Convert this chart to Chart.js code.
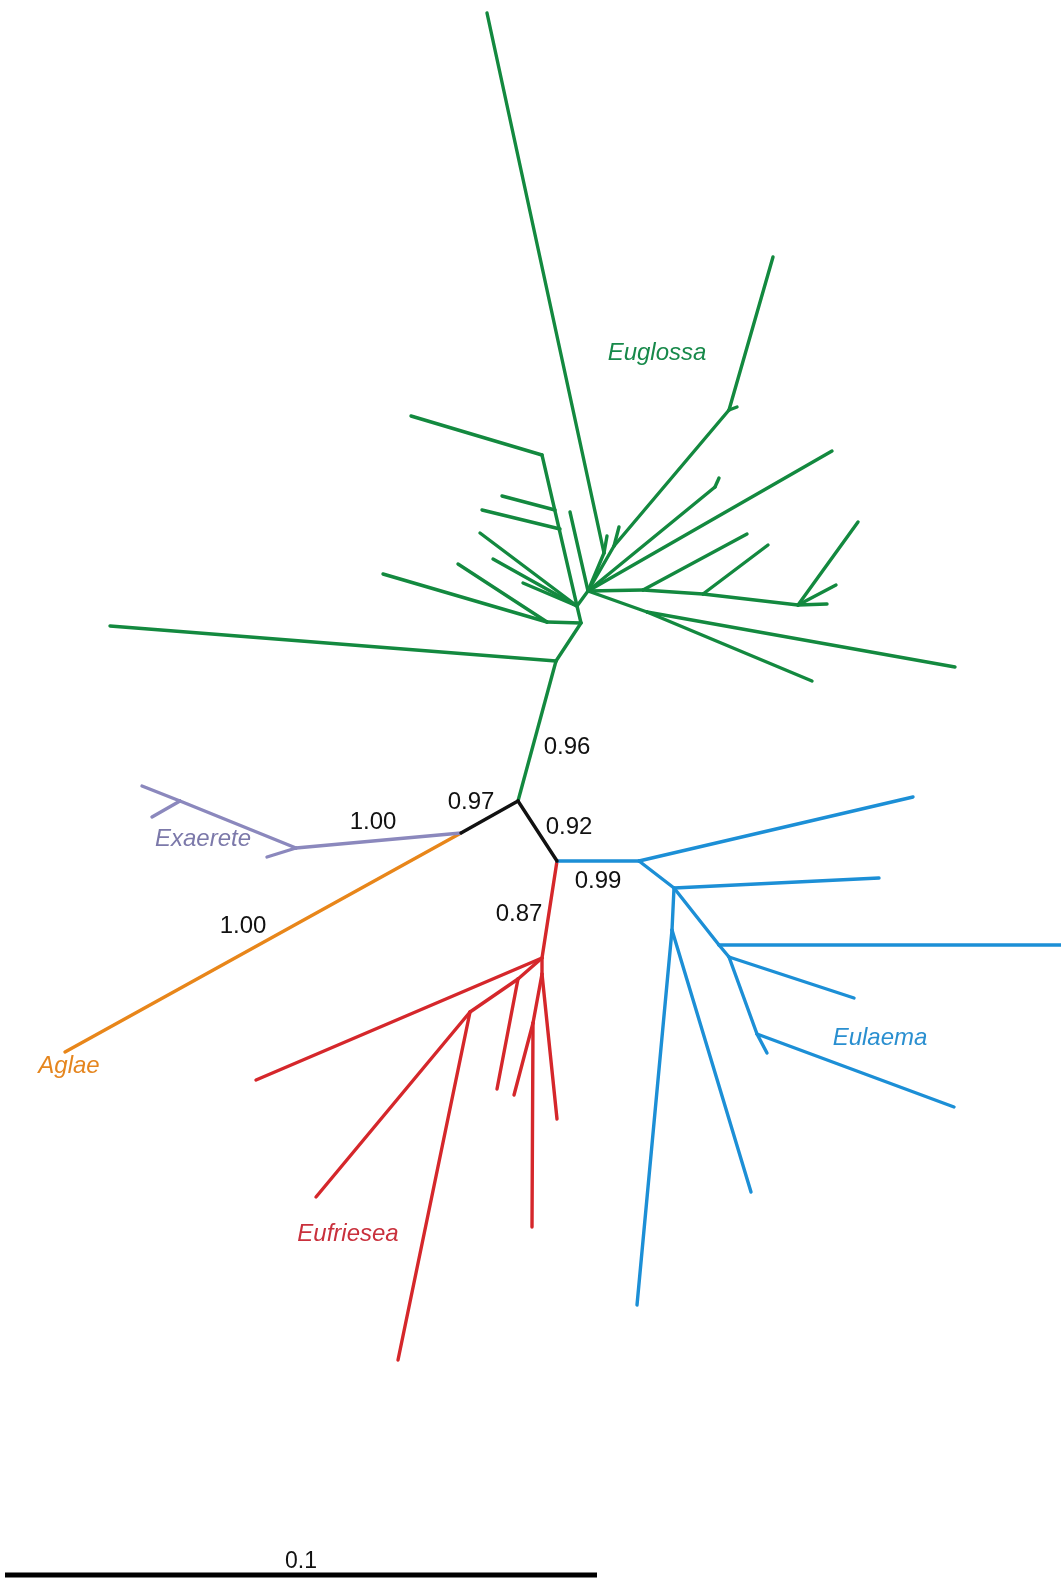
<!DOCTYPE html>
<html>
<head>
<meta charset="utf-8">
<script src="https://cdn.jsdelivr.net/npm/chart.js@4/dist/chart.umd.min.js"></script>
<style>
  html, body { margin: 0; padding: 0; background: #ffffff; }
  #wrap { width: 1061px; height: 1580px; position: relative; }
</style>
</head>
<body>
<div id="wrap"><canvas id="tree" width="1061" height="1580"></canvas></div>
<script>
// Unrooted tree of euglossine bee genera, edges as [x1, y1, x2, y2] in layout units.
const backboneEdges = [
  [518, 801, 461, 833],
  [518, 801, 557, 861]
];

const euglossaEdges = [
  [518, 801, 556, 661], [556, 661, 110, 626], [556, 661, 581, 623],
  [581, 623, 547, 622], [547, 622, 383, 574], [547, 622, 458, 564],
  [581, 623, 577, 606], [577, 606, 588, 591],
  [577, 606, 542, 455], [542, 455, 411, 416],
  [555, 510, 502, 496], [560, 529, 482, 510],
  [577, 606, 480, 533], [577, 606, 493, 559], [577, 606, 523, 583],
  [588, 591, 570, 512],
  [588, 591, 604, 553], [604, 553, 487, 13], [604, 553, 607, 536],
  [588, 591, 614, 546], [614, 546, 619, 527], [614, 546, 729, 410],
  [729, 410, 773, 257], [729, 410, 737, 407],
  [588, 591, 715, 487], [715, 487, 719, 478],
  [588, 591, 832, 451],
  [588, 591, 643, 590], [643, 590, 703, 594], [703, 594, 798, 605],
  [643, 590, 747, 534], [703, 594, 768, 545],
  [798, 605, 858, 522], [798, 605, 836, 585], [798, 605, 827, 604],
  [588, 591, 647, 612], [647, 612, 955, 667], [647, 612, 812, 681]
];

const exaereteEdges = [
  [461, 833, 296, 848], [296, 848, 267, 857], [296, 848, 180, 801],
  [180, 801, 142, 786], [180, 801, 152, 817]
];

const aglaeEdges = [
  [461, 833, 65, 1052]
];

const eulaemaEdges = [
  [557, 861, 639, 861], [639, 861, 913, 797], [639, 861, 674, 888],
  [674, 888, 879, 878], [674, 888, 719, 945], [719, 945, 1061, 945],
  [719, 945, 729, 957], [729, 957, 854, 998], [729, 957, 757, 1034],
  [757, 1034, 767, 1053], [757, 1034, 954, 1107],
  [674, 888, 672, 930], [672, 930, 637, 1305], [672, 930, 751, 1192]
];

const eufrieseaEdges = [
  [557, 861, 542, 958], [542, 958, 256, 1080], [542, 958, 518, 979],
  [518, 979, 470, 1012], [518, 979, 497, 1089], [470, 1012, 316, 1197],
  [470, 1012, 398, 1360], [542, 958, 542, 974], [542, 974, 557, 1119],
  [542, 974, 533, 1023], [533, 1023, 514, 1095], [533, 1023, 532, 1227]
];

// Scale bar: 0.1 substitutions per site
const scaleBar = [5, 1575, 597, 1575];
const scaleBarLabel = '0.1';

// Clade names and their label anchors
const cladeNames = ['Euglossa', 'Exaerete', 'Aglae', 'Eufriesea', 'Eulaema'];
const cladeLabelPos = [[657, 353], [203, 839], [69, 1066], [348, 1234], [880, 1038]];
const cladeLabelColors = ['#17894a', '#7c79aa', '#e5861f', '#c9303c', '#2a8fd0'];

// Posterior support values on internal branches
const supportValues = ['0.96', '0.97', '1.00', '0.92', '0.99', '0.87', '1.00'];
const supportPos = [[567, 747], [471, 802], [373, 822], [569, 827], [598, 881], [519, 914], [243, 926]];

const cladeStyles = [
  { edges: backboneEdges, color: '#111111' },
  { edges: euglossaEdges, color: '#13893f' },
  { edges: exaereteEdges, color: '#8b88bd' },
  { edges: aglaeEdges, color: '#e8861a' },
  { edges: eulaemaEdges, color: '#1c8fd6' },
  { edges: eufrieseaEdges, color: '#d5272b' }
];

const datasets = [];
cladeStyles.forEach(c => {
  c.edges.forEach(e => {
    datasets.push({
      data: [{ x: e[0], y: e[1] }, { x: e[2], y: e[3] }],
      borderColor: c.color,
      borderWidth: 3.4,
      borderCapStyle: 'round',
      pointRadius: 0,
      showLine: true,
      fill: false
    });
  });
});
datasets.push({
  data: [{ x: scaleBar[0], y: scaleBar[1] }, { x: scaleBar[2], y: scaleBar[3] }],
  borderColor: '#000000',
  borderWidth: 5,
  borderCapStyle: 'butt',
  pointRadius: 0,
  showLine: true,
  fill: false
});

const labelPlugin = {
  id: 'treeLabels',
  afterDatasetsDraw(chart) {
    const { ctx, scales } = chart;
    const px = v => scales.x.getPixelForValue(v);
    const py = v => scales.y.getPixelForValue(v);
    ctx.save();
    ctx.textAlign = 'center';
    ctx.textBaseline = 'middle';
    ctx.font = 'italic 24px "Liberation Sans", Arial, sans-serif';
    cladeNames.forEach((name, i) => {
      ctx.fillStyle = cladeLabelColors[i];
      ctx.fillText(name, px(cladeLabelPos[i][0]), py(cladeLabelPos[i][1]));
    });
    ctx.font = '24px "Liberation Sans", Arial, sans-serif';
    ctx.fillStyle = '#111111';
    supportValues.forEach((v, i) => {
      ctx.fillText(v, px(supportPos[i][0]), py(supportPos[i][1]));
    });
    ctx.font = '23px "Liberation Sans", Arial, sans-serif';
    ctx.fillText(scaleBarLabel, px((scaleBar[0] + scaleBar[2]) / 2), py(scaleBar[1] - 13));
    ctx.restore();
  }
};

new Chart(document.getElementById('tree'), {
  type: 'scatter',
  data: { datasets },
  options: {
    responsive: false,
    animation: false,
    events: [],
    layout: { padding: 0 },
    plugins: { legend: { display: false }, tooltip: { enabled: false } },
    scales: {
      x: { type: 'linear', min: 0, max: 1061, display: false },
      y: { type: 'linear', min: 0, max: 1580, reverse: true, display: false }
    }
  },
  plugins: [labelPlugin]
});
</script>
</body>
</html>
